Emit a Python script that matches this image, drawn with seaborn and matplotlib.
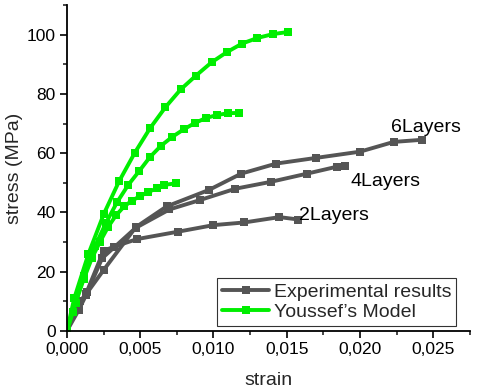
import numpy as np
import pandas as pd
import seaborn as sns
import matplotlib
matplotlib.use("Agg")
import matplotlib.pyplot as plt
from matplotlib.ticker import FuncFormatter, MultipleLocator

# Experimental results
exp2_x = [0, 0.0006, 0.0013, 0.0025, 0.0032, 0.0048, 0.0076, 0.0100, 0.0121, 0.0145, 0.0158]
exp2_y = [0, 7, 12.5, 27.0, 28.4, 31.0, 33.5, 35.7, 36.6, 38.4, 37.6]
exp4_x = [0, 0.0008, 0.0013, 0.0024, 0.0047, 0.0070, 0.0091, 0.0115, 0.0139, 0.0164, 0.0184, 0.0190]
exp4_y = [0, 7.0, 12.0, 24.5, 34.8, 41.0, 44.2, 48.0, 50.3, 53.1, 55.4, 55.5]
exp6_x = [0, 0.0009, 0.0014, 0.0025, 0.0047, 0.0068, 0.0097, 0.0119, 0.0143, 0.0170, 0.0200, 0.0223, 0.0242]
exp6_y = [0, 10.0, 13.0, 20.5, 35.0, 42.0, 47.6, 53.1, 56.5, 58.4, 60.5, 63.8, 64.5]

# Youssef's model
mod2_x = [0, 0.0006, 0.00115, 0.0017, 0.00225, 0.0028, 0.00335, 0.0039, 0.00445, 0.0050, 0.00556, 0.00613, 0.00665, 0.00742]
mod2_y = [0, 9.5, 17.5, 24.5, 30.0, 35.0, 39.0, 42.0, 44.0, 45.5, 46.9, 48.1, 49.3, 49.8]
mod4_x = [0, 0.0004, 0.00115, 0.00191, 0.00267, 0.00343, 0.00419, 0.00494, 0.00567, 0.00642, 0.00719, 0.00799, 0.00874, 0.0095, 0.01027, 0.01102, 0.01177]
mod4_y = [0, 6.5, 18.5, 28.5, 36.5, 43.5, 49.3, 54.0, 58.7, 62.5, 65.5, 68.1, 70.2, 71.9, 72.9, 73.5, 73.6]
mod6_x = [0, 0.0005, 0.00147, 0.00252, 0.00357, 0.00464, 0.00567, 0.00672, 0.00776, 0.00881, 0.00988, 0.01091, 0.01195, 0.0130, 0.01405, 0.01507]
mod6_y = [0, 11.0, 26.0, 39.5, 50.6, 60.2, 68.4, 75.5, 81.5, 86.2, 90.7, 94.1, 97.0, 98.9, 100.2, 100.9]

labels = ["6Layers", "4Layers", "2Layers"]
label_x = [0.02213, 0.01933, 0.01585]
label_y = [68.5, 50.5, 39.0]

sns.set_style("ticks")
plt.rcParams["font.family"] = ["Liberation Sans", "DejaVu Sans"]

fig = plt.figure(figsize=(4.78, 3.92), dpi=100)
ax = fig.add_axes([0.140, 0.156, 0.843, 0.831])

gray = "#555555"
green = "#00ee00"

series = [
    (exp2_x, exp2_y, gray, "Experimental results"),
    (exp4_x, exp4_y, gray, None),
    (exp6_x, exp6_y, gray, None),
    (mod2_x, mod2_y, green, "Youssef\u2019s Model"),
    (mod4_x, mod4_y, green, None),
    (mod6_x, mod6_y, green, None),
]
for xs, ys, c, lab in series:
    df = pd.DataFrame({"strain": xs, "stress": ys})
    sns.lineplot(data=df, x="strain", y="stress", ax=ax, sort=False, color=c,
                 marker="s", markersize=6, markeredgewidth=0, linewidth=2.8,
                 label=lab if lab else "_nolegend_", legend=False)

for t, tx, ty in zip(labels, label_x, label_y):
    ax.text(tx, ty, t, fontsize=14, va="center", ha="left", color="black")

ax.set_xlim(0, 0.0275)
ax.set_ylim(0, 110)
ax.xaxis.set_major_locator(MultipleLocator(0.005))
ax.xaxis.set_minor_locator(MultipleLocator(0.0025))
ax.yaxis.set_major_locator(MultipleLocator(20))
ax.yaxis.set_minor_locator(MultipleLocator(10))
ax.xaxis.set_major_formatter(FuncFormatter(lambda v, p: f"{v:.3f}".replace(".", ",")))
ax.yaxis.set_major_formatter(FuncFormatter(lambda v, p: f"{v:.0f}"))
ax.tick_params(which="major", direction="out", length=5, width=1.2, labelsize=12.5, colors="black", pad=3)
ax.tick_params(which="minor", direction="out", length=3, width=1.2)
for s in ["top", "right"]:
    ax.spines[s].set_visible(False)
for s in ["left", "bottom"]:
    ax.spines[s].set_linewidth(1.3)
    ax.spines[s].set_color("black")
ax.set_xlabel("strain", fontsize=14, labelpad=11)
ax.set_ylabel("stress (MPa)", fontsize=14, labelpad=3)

leg = ax.legend(loc="lower right", bbox_to_anchor=(0.966, 0.015), fontsize=14,
                frameon=True, fancybox=False, edgecolor="black", handlelength=2.4,
                borderpad=0.25, labelspacing=0.15, handletextpad=0.25, borderaxespad=0)
leg.get_frame().set_linewidth(0.8)

fig.savefig("out.png", dpi=100)
